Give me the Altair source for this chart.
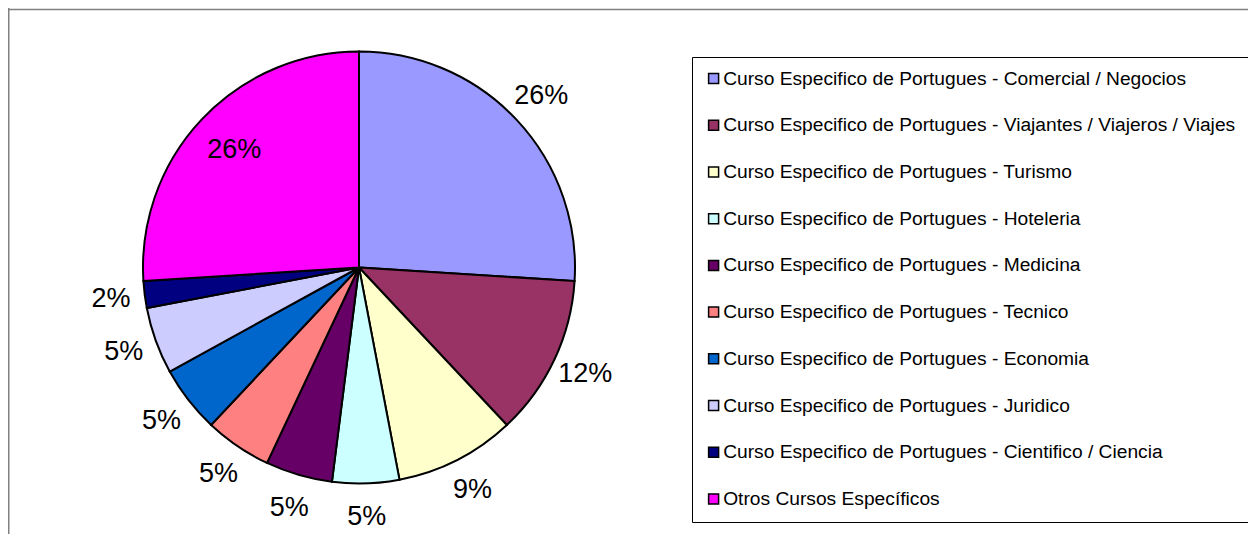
import altair as alt
import pandas as pd

categories = [
    "Curso Especifico de Portugues - Comercial / Negocios",
    "Curso Especifico de Portugues - Viajantes / Viajeros / Viajes",
    "Curso Especifico de Portugues - Turismo",
    "Curso Especifico de Portugues - Hoteleria",
    "Curso Especifico de Portugues - Medicina",
    "Curso Especifico de Portugues - Tecnico",
    "Curso Especifico de Portugues - Economia",
    "Curso Especifico de Portugues - Juridico",
    "Curso Especifico de Portugues - Cientifico / Ciencia",
    "Otros Cursos Específicos",
]
values = [26, 12, 9, 5, 5, 5, 5, 5, 2, 26]
labels = ["26%", "12%", "9%", "5%", "5%", "5%", "5%", "5%", "2%", "26%"]
colors = ["#9999FF", "#993366", "#FFFFCC", "#CCFFFF", "#660066",
          "#FF8080", "#0066CC", "#CCCCFF", "#000080", "#FF00FF"]

df = pd.DataFrame({
    "cat": categories,
    "value": values,
    "label": labels,
    "idx": list(range(len(categories))),
})

FONT = "Liberation Sans"
CX, CY, R = 351, 259.5, 216

base = alt.Chart(df)

color = alt.Color(
    "cat:N",
    sort=None,
    scale=alt.Scale(domain=categories, range=colors),
    legend=alt.Legend(
        title=None,
        orient="none",
        legendX=684,
        legendY=49,
        padding=12,
        rowPadding=26.7,
        strokeColor="#000000",
        fillColor="#FFFFFF",
        symbolType="square",
        symbolSize=100,
        symbolStrokeColor="#000000",
        symbolStrokeWidth=1.5,
        symbolOpacity=1,
        labelFont=FONT,
        labelFontSize=19.2,
        labelColor="#000000",
        labelOffset=0,
        labelLimit=0,
    ),
)

pie = base.mark_arc(stroke="#000000", strokeWidth=2, radius=R).encode(
    theta=alt.Theta("value:Q", stack=True),
    order=alt.Order("idx:Q"),
    color=color,
    x=alt.value(CX),
    y=alt.value(CY),
)

text = base.transform_joinaggregate(
    total="sum(value)"
).transform_window(
    cum="sum(value)", sort=[alt.SortField("idx")], frame=[None, 0]
).transform_calculate(
    mid="(datum.cum - datum.value / 2) / datum.total",
    lr=f"datum.cat == '{categories[-1]}' ? 171 : 250",
).mark_text(font=FONT, fontSize=27, color="#000000", align="center", baseline="middle").encode(
    theta=alt.Theta("mid:Q", stack=None, scale=alt.Scale(domain=[0, 1])),
    radius=alt.Radius("lr:Q", scale=None),
    text="label:N",
    x=alt.value(CX),
    y=alt.value(CY),
)

border_df = pd.DataFrame({"a": [0]})
top_rule = alt.Chart(border_df).mark_rule(color="#808080", strokeWidth=1.5).encode(
    x=alt.value(0), x2=alt.value(1240), y=alt.value(1.5)
)
left_rule = alt.Chart(border_df).mark_rule(color="#808080", strokeWidth=1.5).encode(
    x=alt.value(0.75), y=alt.value(0), y2=alt.value(526)
)

chart = alt.layer(pie, text, top_rule, left_rule).resolve_scale(
    theta="independent"
).properties(
    width=1240,
    height=526,
    autosize=alt.AutoSizeParams(type="none"),
    padding=0,
).configure_view(stroke=None)

chart.save("out.html", embed_options={"renderer": "svg", "actions": False})
